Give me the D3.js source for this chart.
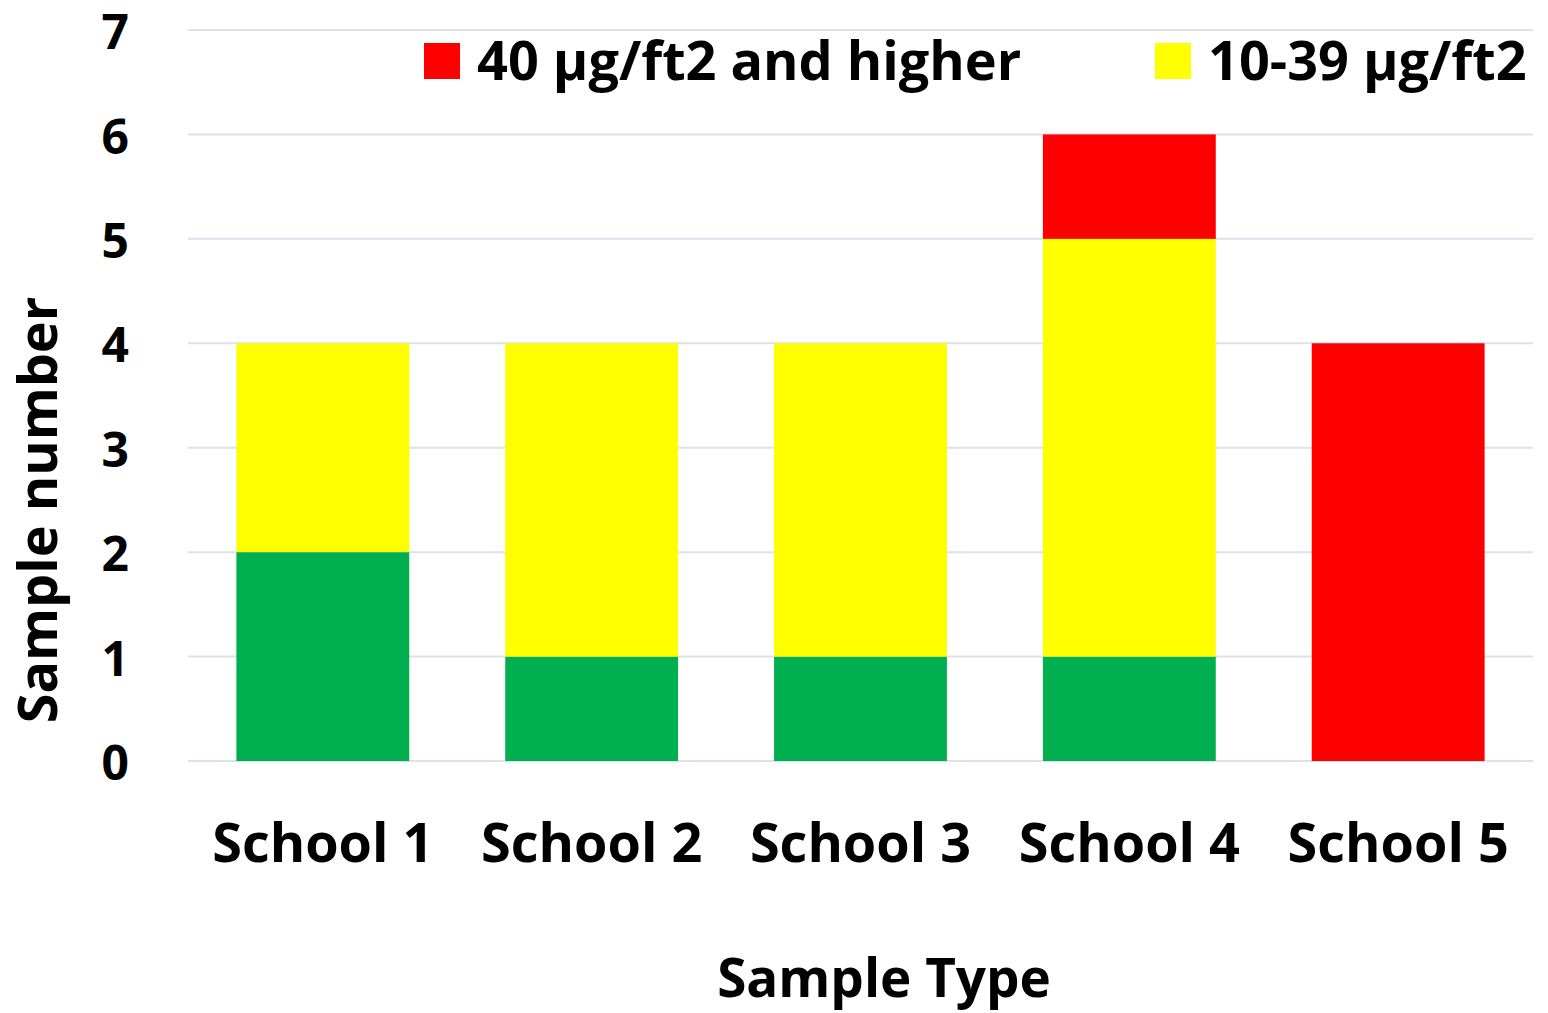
<!DOCTYPE html>
<html>
<head>
<meta charset="utf-8">
<script src="https://cdn.jsdelivr.net/npm/d3@7"></script>
<style>
  body { margin: 0; background: #fff; }
  text { font-family: "Open Sans", Lato, sans-serif; font-weight: bold; fill: #000; }
</style>
</head>
<body>
<svg width="1548" height="1013"></svg>
<script>
const schools = ["School 1", "School 2", "School 3", "School 4", "School 5"];
const below10 = [2, 1, 1, 1, 0];
const mid = [2, 3, 3, 4, 0];
const high = [0, 0, 0, 1, 4];
const yTicks = [0, 1, 2, 3, 4, 5, 6, 7];

const seriesNames = ["<10 µg/ft2", "10-39 µg/ft2", "40 µg/ft2 and higher"];
const colors = ["#00B050", "#FFFF00", "#FF0000"];

const svg = d3.select("svg");
const margin = { left: 188, right: 15, top: 30, bottom: 252 };
const width = +svg.attr("width");
const height = +svg.attr("height");

const table = schools.map((s, i) => ({ school: s, a: below10[i], b: mid[i], c: high[i] }));
const stack = d3.stack().keys(["a", "b", "c"])(table);

const x = d3.scaleBand()
  .domain(schools)
  .range([margin.left, width - margin.right])
  .paddingInner(0.357)
  .paddingOuter(0.18);

const y = d3.scaleLinear()
  .domain([0, 7])
  .range([height - margin.bottom, margin.top]);

// gridlines
svg.append("g")
  .selectAll("line")
  .data(yTicks)
  .join("line")
  .attr("x1", margin.left)
  .attr("x2", width - margin.right)
  .attr("y1", d => y(d))
  .attr("y2", d => y(d))
  .attr("stroke", "#dde1e8")
  .attr("stroke-width", 2);

// bars
svg.append("g")
  .selectAll("g")
  .data(stack)
  .join("g")
  .attr("fill", (d, i) => colors[i])
  .selectAll("rect")
  .data(d => d)
  .join("rect")
  .attr("x", d => x(d.data.school))
  .attr("width", x.bandwidth())
  .attr("y", d => y(d[1]))
  .attr("height", d => y(d[0]) - y(d[1]));

// y tick labels
svg.append("g")
  .selectAll("text")
  .data(yTicks)
  .join("text")
  .attr("x", 129)
  .attr("y", d => y(d))
  .attr("dy", "0.4em")
  .attr("text-anchor", "end")
  .style("font-size", "48px")
  .text(d => d);

// x tick labels
svg.append("g")
  .selectAll("text")
  .data(schools)
  .join("text")
  .attr("x", d => x(d) + x.bandwidth() / 2)
  .attr("y", 862)
  .attr("text-anchor", "middle")
  .style("font-size", "54px")
  .text(d => d);

// axis titles
svg.append("text")
  .attr("x", 884)
  .attr("y", 997)
  .attr("text-anchor", "middle")
  .style("font-size", "53px")
  .text("Sample Type");

svg.append("text")
  .attr("transform", "translate(57,510) rotate(-90)")
  .attr("text-anchor", "middle")
  .style("font-size", "54px")
  .text("Sample number");

// legend (red and yellow only, as in the original)
const legendItems = [
  { name: seriesNames[2], color: colors[2], x: 424 },
  { name: seriesNames[1], color: colors[1], x: 1155 }
];
const lg = svg.append("g")
  .selectAll("g")
  .data(legendItems)
  .join("g")
  .attr("transform", d => `translate(${d.x},43)`);
lg.append("rect")
  .attr("width", 36)
  .attr("height", 36)
  .attr("fill", d => d.color);
lg.append("text")
  .attr("x", 53)
  .attr("y", 37)
  .style("font-size", "54px")
  .text(d => d.name);
</script>
</body>
</html>
